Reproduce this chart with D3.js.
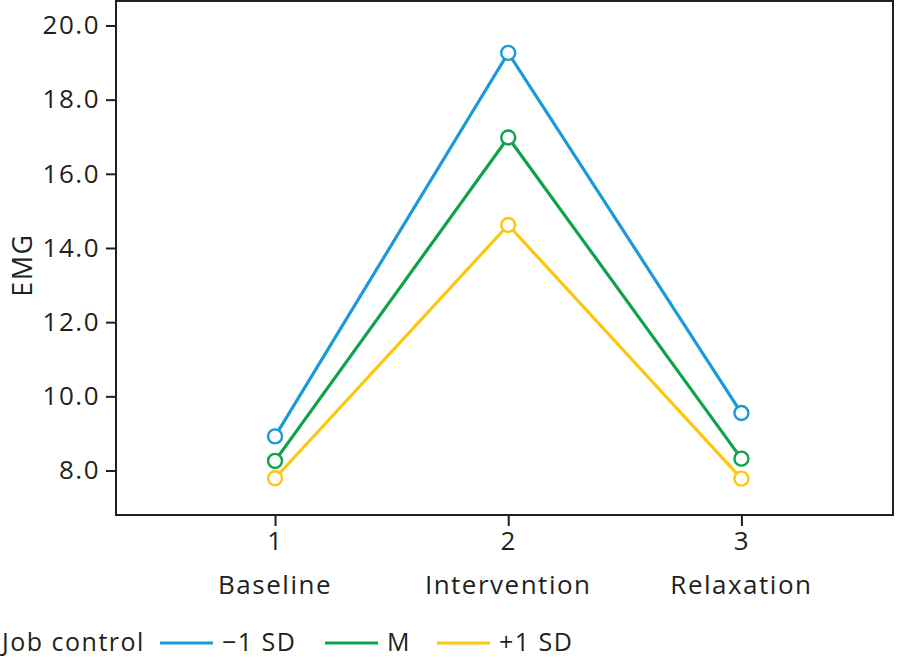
<!DOCTYPE html>
<html>
<head>
<meta charset="UTF-8">
<title>EMG by job control</title>
<script src="https://cdn.jsdelivr.net/npm/d3@7"></script>
<style>
  body { margin: 0; background: #fff; }
  text { font-family: "Open Sans", sans-serif; fill: #231f20; letter-spacing: 1.5px; }
</style>
</head>
<body>
<svg id="chart" width="897" height="661"></svg>
<script>
// data
var phases = [1, 2, 3];
var phaseNames = ["Baseline", "Intervention", "Relaxation"];
var yTicks = [8, 10, 12, 14, 16, 18, 20];
var seriesNames = ["\u22121 SD", "M", "+1 SD"];
var seriesColors = ["#1a9bd7", "#0fa24d", "#fdc70f"];
var lowControl = [8.92, 19.26, 9.55];
var meanControl = [8.26, 16.98, 8.32];
var highControl = [7.79, 14.62, 7.78];

var allSeries = [lowControl, meanControl, highControl];

var svg = d3.select("#chart");

var plotLeft = 116, plotRight = 893, plotTop = 1, plotBottom = 515;

var x = d3.scaleLinear().domain([0.318, 3.65]).range([plotLeft, plotRight]);
var y = d3.scaleLinear().domain([6.8, 20.66]).range([plotBottom, plotTop]);

// frame
svg.append("rect")
	.attr("x", plotLeft).attr("y", plotTop)
	.attr("width", plotRight - plotLeft).attr("height", plotBottom - plotTop)
	.attr("fill", "none").attr("stroke", "#231f20").attr("stroke-width", 2);

// y axis
var yAxis = d3.axisLeft(y).tickValues(yTicks)
	.tickFormat(d3.format(".1f")).tickSize(10).tickPadding(6);
var gy = svg.append("g").attr("transform", "translate(" + plotLeft + ",0)").call(yAxis);
gy.select(".domain").remove();
gy.selectAll("line").attr("stroke", "#231f20").attr("stroke-width", 2);
gy.selectAll("text").style("font-size", "26px").attr("fill", "#231f20");

// x axis
var xAxis = d3.axisBottom(x).tickValues(phases)
	.tickFormat(d3.format("d")).tickSize(11).tickPadding(6);
var gx = svg.append("g").attr("transform", "translate(0," + plotBottom + ")").call(xAxis);
gx.select(".domain").remove();
gx.selectAll("line").attr("stroke", "#231f20").attr("stroke-width", 2);
gx.selectAll("text").style("font-size", "26px").attr("fill", "#231f20");

// phase names under the tick numbers
svg.append("g").selectAll("text").data(phases).enter().append("text")
	.attr("x", function (d) { return x(d); })
	.attr("y", 594)
	.attr("text-anchor", "middle")
	.style("font-size", "26px")
	.text(function (d, i) { return phaseNames[i]; });

// y label
svg.append("text")
	.attr("transform", "translate(32,265) rotate(-90)")
	.attr("text-anchor", "middle")
	.style("font-size", "27px")
	.text("EMG");

// lines and markers
var line = d3.line()
	.x(function (d, i) { return x(phases[i]); })
	.y(function (d) { return y(d); });

allSeries.forEach(function (values, s) {
	var g = svg.append("g");
	g.append("path").datum(values)
		.attr("d", line)
		.attr("fill", "none")
		.attr("stroke", seriesColors[s])
		.attr("stroke-width", 3.2);
	g.selectAll("circle").data(values).enter().append("circle")
		.attr("cx", function (d, i) { return x(phases[i]); })
		.attr("cy", function (d) { return y(d); })
		.attr("r", 7)
		.attr("fill", "#fff")
		.attr("stroke", seriesColors[s])
		.attr("stroke-width", 2.4);
});

// legend
var legend = svg.append("g");
legend.append("text").attr("x", 2).attr("y", 651)
	.style("font-size", "25px").text("Job control");
var legendX = [160, 325, 437];
seriesNames.forEach(function (name, s) {
	legend.append("line")
		.attr("x1", legendX[s]).attr("x2", legendX[s] + 53)
		.attr("y1", 643).attr("y2", 643)
		.attr("stroke", seriesColors[s]).attr("stroke-width", 3.2);
	legend.append("text")
		.attr("x", legendX[s] + 62).attr("y", 651)
		.style("font-size", "25px").text(name);
});
</script>
</body>
</html>
